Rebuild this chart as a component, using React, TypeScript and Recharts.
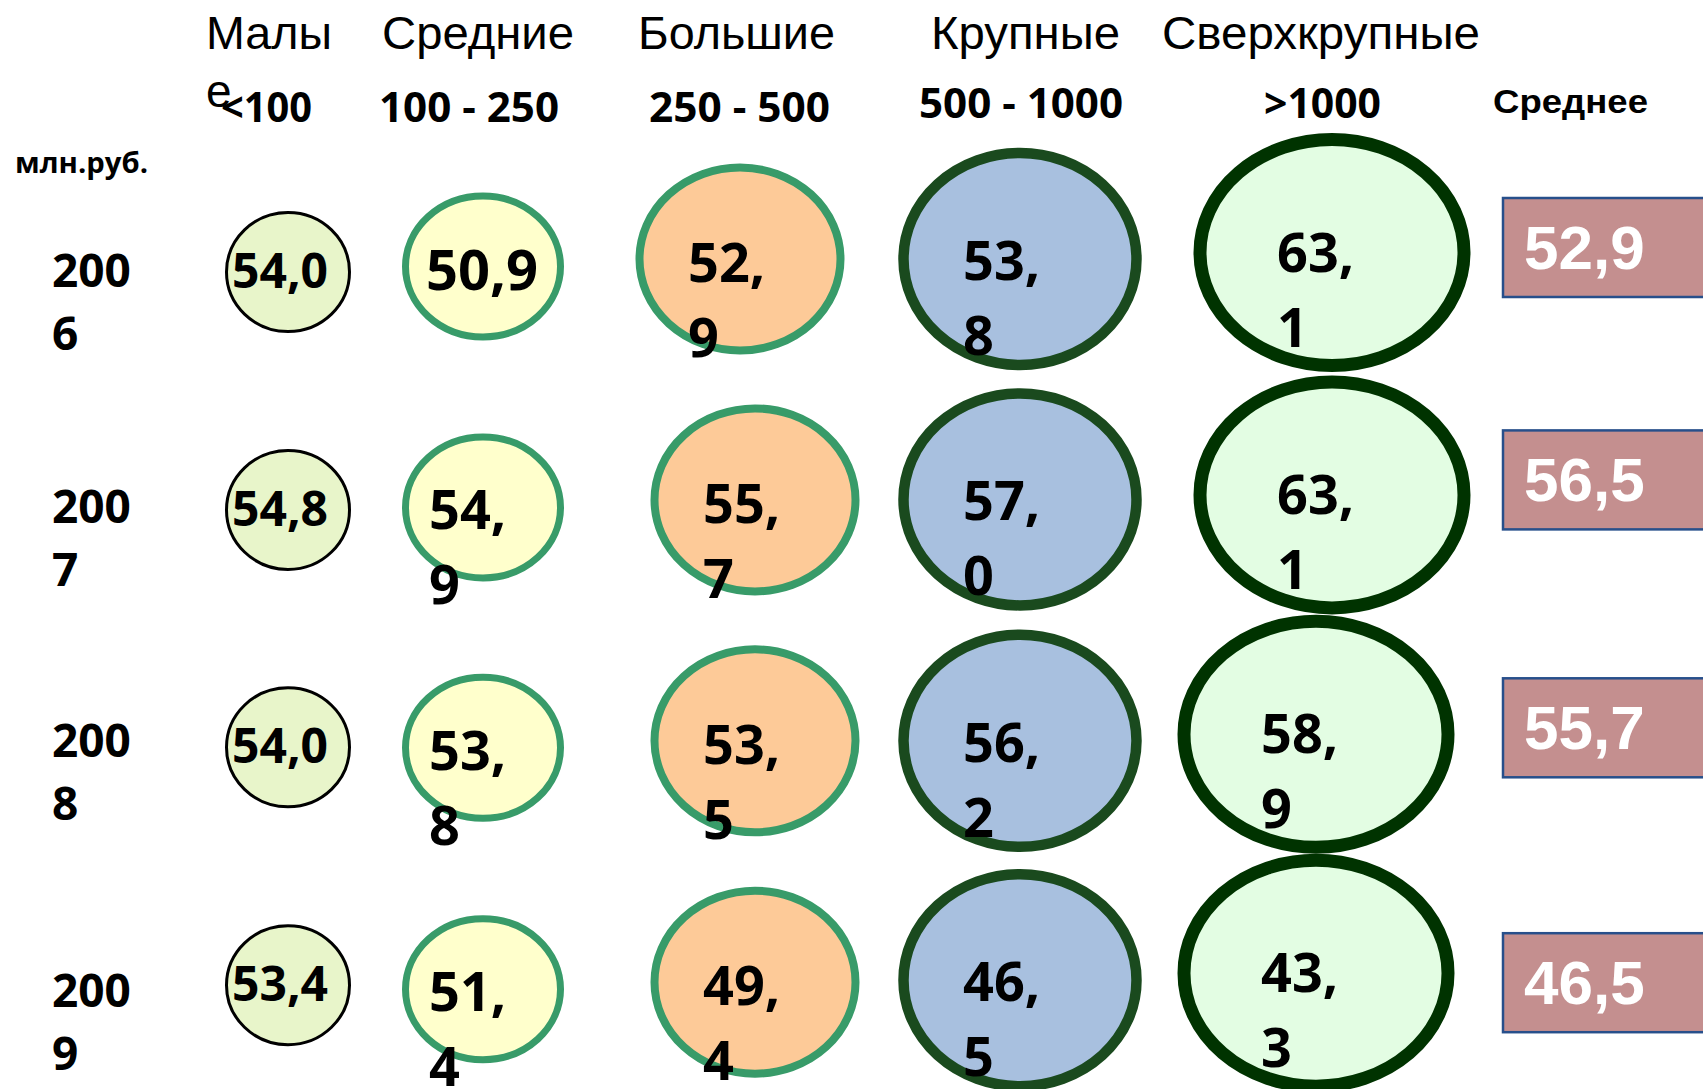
import React from 'react';
import { ScatterChart, Scatter, XAxis, YAxis } from 'recharts';

// ---------- DATA ----------
const YEARS = ['2006', '2007', '2008', '2009'];
const CLASS_NAMES = ['Малые', 'Средние', 'Большие', 'Крупные', 'Сверхкрупные'];
const CLASS_RANGES = ['<100', '100 - 250', '250 - 500', '500 - 1000', '>1000'];
const AVERAGE_TITLE = 'Среднее';
const UNIT = 'млн.руб.';

const SMALL = [54.0, 54.8, 54.0, 53.4];
const MEDIUM = [50.9, 54.9, 53.8, 51.4];
const BIG = [52.9, 55.7, 53.5, 49.4];
const LARGE = [53.8, 57.0, 56.2, 46.5];
const XLARGE = [63.1, 63.1, 58.9, 43.3];
const AVERAGE = [52.9, 56.5, 55.7, 46.5];

const SERIES = [SMALL, MEDIUM, BIG, LARGE, XLARGE];

// ---------- LAYOUT / STYLE ----------
const W = 1703;
const H = 1089;
const X_DOMAIN: [number, number] = [-1.11197, 5.46332];
const Y_DOMAIN: [number, number] = [-1.0774, 3.4526];

const NUM_FONT = '"Open Sans", "Noto Sans", sans-serif';
const HEAD_FONT = '"Liberation Sans", Arial, sans-serif';

const COL_STYLE = [
  { fill: '#e8f5ca', stroke: '#000000', sw: 3, rx: 61.5, ry: 59.5, dx: [0, 0, 0, 0], dy: [13, 10.5, 7.5, 5], lx: -56, ly: 16, font: 48, wrap: [false, false, false, false] },
  { fill: '#ffffcc', stroke: '#389b69', sw: 7, rx: 77.5, ry: 70.5, dx: [-64, -64, -64, -64], dy: [7.5, 8, 8, 9], lx: -54, ly: 22, font: 54, wrap: [false, true, true, true] },
  { fill: '#fdca98', stroke: '#389b69', sw: 8, rx: 100.5, ry: 91.5, dx: [-66, -51, -51, -51], dy: [0, 0.5, 1, 2], lx: -52, ly: 23, font: 54, wrap: [true, true, true, true] },
  { fill: '#a8c0df', stroke: '#1a4a1e', sw: 10.5, rx: 116.5, ry: 106, dx: [-45, -45, -45, -45], dy: [0, 0, 1, 0], lx: -57, ly: 21, font: 54, wrap: [true, true, true, true] },
  { fill: '#e3fde3', stroke: '#003300', sw: 13, rx: 132, ry: 113, dx: [8, 8, -8, -8], dy: [-6.5, -4.5, -5.5, -7], lx: -55, ly: 19, font: 54, wrap: [true, true, true, true] },
];
const WRAP_LINE = 75;

const HEAD_NAME_DX = [-82, -165, -168, -134, -162];
const HEAD_NAME_LEN = [126, 192, 197, 189, 318];
const HEAD_RANGE_DX = [-67, -168, -157, -146, -60];
const HEAD_RANGE_LEN = [91, 180, 181, 204, 117];
const HEAD_RANGE_DY = [103.4, 103.4, 103.4, 99.4, 99.4];
const HEAD_NAME_DY = 30.4;
const HEAD_NAME_WRAP = [4, 0, 0, 0, 0];

const YEAR_DY = [28, 24, 17, 27];
const AVG_DY = [-11.5, -19.5, -12, 2.5];

const fmt = (v: number) => v.toFixed(1).replace('.', ',');

// ---------- DATA FOR SERIES ----------
const headerData = [
  { x: -1, y: -1, col: -1 },
  ...CLASS_NAMES.map((_, i) => ({ x: i, y: -1, col: i })),
  { x: 5, y: -1, col: 5 },
];
const yearData = YEARS.map((yr, i) => ({ x: -1, y: i, row: i, label: yr }));
const cellData = (c: number) => SERIES[c].map((v, r) => ({ x: c, y: r, col: c, row: r, value: v }));
const avgData = AVERAGE.map((v, r) => ({ x: 5, y: r, row: r, value: v }));

const pos = (p: any) => ({
  cx: p.cx ?? (p.x + (p.width || 0) / 2),
  cy: p.cy ?? (p.y + (p.height || 0) / 2),
});

const HeaderShape = (props: any) => {
  const { cx, cy } = pos(props);
  const c = props.payload.col;
  if (c === -1) {
    return (
      <text x={cx - 14} y={cy + 154.4} fontFamily={NUM_FONT} fontWeight={700} fontSize={28} fill="#000" textLength={133} lengthAdjust="spacingAndGlyphs">
        {UNIT}
      </text>
    );
  }
  if (c === 5) {
    return (
      <text x={cx - 90} y={cy + 94.4} fontFamily={HEAD_FONT} fontWeight={700} fontSize={33} fill="#000" textLength={155} lengthAdjust="spacingAndGlyphs">
        {AVERAGE_TITLE}
      </text>
    );
  }
  const name = CLASS_NAMES[c];
  const cut = HEAD_NAME_WRAP[c];
  const l1 = cut ? name.slice(0, cut) : name;
  const l2 = cut ? name.slice(cut) : '';
  const nx = cx + HEAD_NAME_DX[c];
  return (
    <g>
      <text x={nx} y={cy + HEAD_NAME_DY} fontFamily={HEAD_FONT} fontSize={46} fill="#000" textLength={HEAD_NAME_LEN[c]} lengthAdjust="spacingAndGlyphs">{l1}</text>
      {l2 && <text x={nx} y={cy + HEAD_NAME_DY + 58} fontFamily={HEAD_FONT} fontSize={46} fill="#000">{l2}</text>}
      <text x={cx + HEAD_RANGE_DX[c]} y={cy + HEAD_RANGE_DY[c]} fontFamily={NUM_FONT} fontWeight={700} fontSize={41} fill="#000" textLength={HEAD_RANGE_LEN[c]} lengthAdjust="spacingAndGlyphs">
        {CLASS_RANGES[c]}
      </text>
    </g>
  );
};

const YearShape = (props: any) => {
  const { cx, cy } = pos(props);
  const { row, label } = props.payload;
  const x = cx + 23;
  const y = cy + YEAR_DY[row];
  return (
    <g>
      <text x={x} y={y} fontFamily={NUM_FONT} fontWeight={700} fontSize={46} fill="#000">{label.slice(0, 3)}</text>
      <text x={x} y={y + 63} fontFamily={NUM_FONT} fontWeight={700} fontSize={46} fill="#000">{label.slice(3)}</text>
    </g>
  );
};

const EllipseShape = (props: any) => {
  const { cx, cy } = pos(props);
  const { col, row, value } = props.payload;
  const s = COL_STYLE[col];
  const ex = cx + s.dx[row];
  const ey = cy + s.dy[row];
  const label = fmt(value);
  const wrap = s.wrap[row];
  if (!wrap) {
    const big = col === 1;
    return (
      <g>
        <ellipse cx={ex} cy={ey} rx={s.rx} ry={s.ry} fill={s.fill} stroke={s.stroke} strokeWidth={s.sw} />
        <text x={ex + (big ? -57 : s.lx)} y={ey + (big ? 23.5 : s.ly)} fontFamily={NUM_FONT} fontWeight={700} fontSize={big ? 56 : s.font} fill="#000">
          {label}
        </text>
      </g>
    );
  }
  const k = label.indexOf(',') + 1;
  return (
    <g>
      <ellipse cx={ex} cy={ey} rx={s.rx} ry={s.ry} fill={s.fill} stroke={s.stroke} strokeWidth={s.sw} />
      <text x={ex + s.lx} y={ey + s.ly} fontFamily={NUM_FONT} fontWeight={700} fontSize={s.font} fill="#000">{label.slice(0, k)}</text>
      <text x={ex + s.lx} y={ey + s.ly + WRAP_LINE} fontFamily={NUM_FONT} fontWeight={700} fontSize={s.font} fill="#000">{label.slice(k)}</text>
    </g>
  );
};

const AvgShape = (props: any) => {
  const { cx, cy } = pos(props);
  const { row, value } = props.payload;
  const cyy = cy + AVG_DY[row];
  const left = cx - 80;
  return (
    <g>
      <rect x={left} y={cyy - 49.5} width={260} height={99} fill="#c48f8f" stroke="#274f8b" strokeWidth={2.5} />
      <text x={left + 21} y={cyy + 21.5} fontFamily={HEAD_FONT} fontWeight={700} fontSize={62} fill="#ffffff">
        {fmt(value)}
      </text>
    </g>
  );
};

export default function App() {
  return (
    <div style={{ position: 'absolute', left: 0, top: 0, width: W, height: H, background: '#ffffff', overflow: 'hidden' }}>
      <ScatterChart width={W} height={H} margin={{ top: 0, right: 0, bottom: 0, left: 0 }}>
        <XAxis type="number" dataKey="x" domain={X_DOMAIN} allowDataOverflow hide />
        <YAxis type="number" dataKey="y" domain={Y_DOMAIN} allowDataOverflow reversed hide />
        <Scatter data={headerData} shape={HeaderShape} isAnimationActive={false} />
        <Scatter data={yearData} shape={YearShape} isAnimationActive={false} />
        {SERIES.map((_, c) => (
          <Scatter key={c} data={cellData(c)} shape={EllipseShape} isAnimationActive={false} />
        ))}
        <Scatter data={avgData} shape={AvgShape} isAnimationActive={false} />
      </ScatterChart>
    </div>
  );
}
